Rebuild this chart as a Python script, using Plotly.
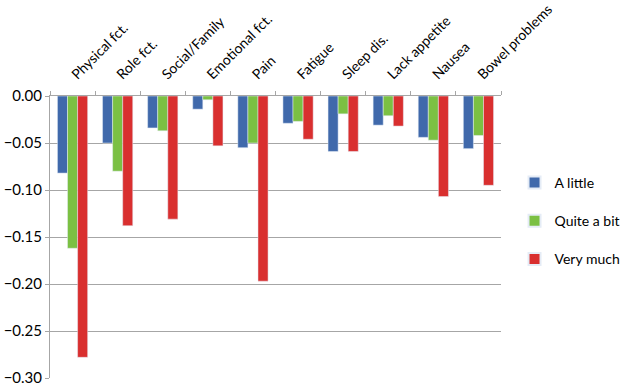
import plotly.graph_objects as go

categories = ["Physical fct.", "Role fct.", "Social/Family", "Emotional fct.", "Pain",
              "Fatigue", "Sleep dis.", "Lack appetite", "Nausea", "Bowel problems"]
a_little = [-0.082, -0.050, -0.034, -0.014, -0.055, -0.029, -0.059, -0.031, -0.044, -0.056]
quite_a_bit = [-0.162, -0.080, -0.037, -0.004, -0.050, -0.027, -0.019, -0.021, -0.047, -0.042]
very_much = [-0.278, -0.138, -0.131, -0.053, -0.197, -0.046, -0.059, -0.032, -0.107, -0.095]
y_ticks = [0.0, -0.05, -0.10, -0.15, -0.20, -0.25, -0.30]

fig = go.Figure()
fig.add_trace(go.Bar(x=categories, y=a_little, name="A little", marker_color="#4069AB", legendgroup="a"))
fig.add_trace(go.Bar(x=categories, y=quite_a_bit, name="Quite a bit", marker_color="#7BC043", legendgroup="b"))
fig.add_trace(go.Bar(x=categories, y=very_much, name="Very much", marker_color="#D92F2F", legendgroup="c"))

font_family = "Lato, 'Open Sans', sans-serif"
fig.update_layout(
    width=624, height=388,
    margin=dict(l=50, r=123, t=96, b=10, autoexpand=False),
    paper_bgcolor="white", plot_bgcolor="white",
    barmode="group", bargap=0.33, bargroupgap=0,
    font=dict(family=font_family, size=15, color="#000000"),
    showlegend=True,
    legend=dict(x=1.03, y=0.557, xanchor="left", yanchor="middle",
                font=dict(size=14), tracegroupgap=17, itemsizing="constant",
                itemwidth=30),
    xaxis=dict(side="top", tickangle=-45, showline=True, linecolor="#A6A6A6",
               linewidth=1, ticks="outside", tickson="boundaries", ticklen=4,
               tickcolor="#A6A6A6", showgrid=False, tickfont=dict(size=14),
               automargin=False, ticklabelstandoff=7),
    yaxis=dict(range=[-0.30, 0.0], tickvals=y_ticks, tickformat=".2f",
               showline=True, linecolor="#A6A6A6", linewidth=1,
               showgrid=True, gridcolor="#A6A6A6", gridwidth=1,
               zeroline=False, ticks="outside", ticklen=4, tickcolor="#A6A6A6",
               tickfont=dict(size=15), automargin=False),
)
fig.write_html("out.html", config={"displayModeBar": False},
               post_script="document.body.style.margin='0';document.body.style.overflow='hidden';")
